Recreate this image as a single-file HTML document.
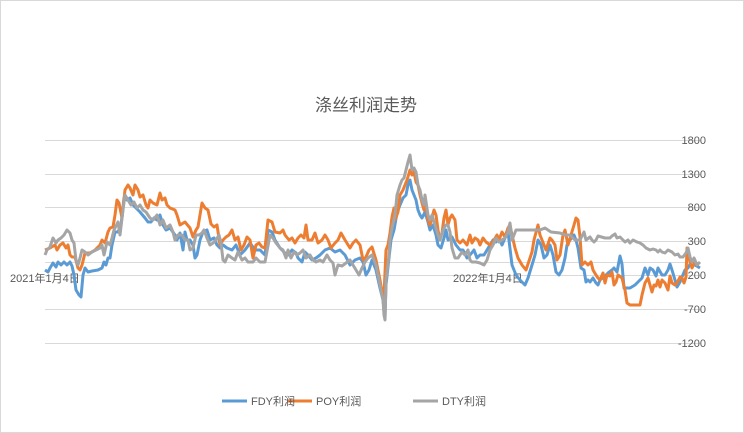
<!DOCTYPE html>
<html><head><meta charset="utf-8"><style>
html,body{margin:0;padding:0;background:#fff}
svg{display:block}
text{font-family:"Liberation Sans","Noto Sans CJK SC",sans-serif;fill:#595959}
</style></head><body>
<svg width="744" height="433" viewBox="0 0 744 433" xmlns="http://www.w3.org/2000/svg">
<rect x="0.5" y="0.5" width="743" height="432" fill="#fff" stroke="#d9d9d9"/>
<text x="366" y="111" font-size="17" text-anchor="middle">涤丝利润走势</text>
<g stroke="#d9d9d9" stroke-width="1">
<line x1="45" x2="700" y1="140.5" y2="140.5"/>
<line x1="45" x2="700" y1="174.5" y2="174.5"/>
<line x1="45" x2="700" y1="207.5" y2="207.5"/>
<line x1="45" x2="700" y1="241.5" y2="241.5"/>
<line x1="45" x2="700" y1="275.5" y2="275.5"/>
<line x1="45" x2="700" y1="309.5" y2="309.5"/>
<line x1="45" x2="700" y1="343.5" y2="343.5"/>
<line x1="45" x2="700" y1="262.5" y2="262.5"/>
</g>
<g font-size="11" text-anchor="end">
<text x="706" y="144">1800</text>
<text x="706" y="178">1300</text>
<text x="706" y="211">800</text>
<text x="706" y="245">300</text>
<text x="706" y="279">-200</text>
<text x="706" y="313">-700</text>
<text x="706" y="347">-1200</text>
</g>
<text x="10" y="282" font-size="11">2021年1月4日</text>
<text x="453" y="282" font-size="11">2022年1月4日</text>
<g fill="none" stroke-width="3" stroke-linejoin="round">
<polyline stroke="#5b9bd5" points="45,270 48,272 50,268 53,263 56,267 58,262 61,265 64,262 67,265 70,262 72,266 74,275 76,290 79,295 81,297 83,275 85,268 88,272 92,271 98,270 102,268 104,262 106,265 108,258 110,258 112,245 115,232 118,232 121,225 124,198 127,200 130,198 133,205 136,208 140,212 145,218 148,222 151,222 154,218 157,220 160,215 163,225 166,230 170,228 175,235 177,240 180,233 183,250 185,232 187,240 190,240 193,245 195,258 197,255 200,240 203,232 207,230 210,240 214,238 217,245 220,248 223,245 227,248 232,250 236,245 240,255 245,250 250,243 255,250 260,250 265,255 268,230 272,232 275,240 280,248 285,253 288,255 292,250 296,253 298,258 302,262 305,252 308,255 312,260 316,258 320,255 325,250 330,248 335,252 340,250 345,255 350,265 355,260 360,258 363,262 366,275 369,270 372,260 376,270 380,288 383,300 385,318 386,285 389,258 391,240 394,230 397,213 400,205 403,198 406,195 408,185 410,180 412,190 414,195 416,200 418,210 420,215 422,218 425,212 428,222 430,230 433,225 436,235 438,245 441,248 444,238 446,230 448,240 452,237 456,245 460,250 463,250 467,258 470,255 474,250 477,258 480,255 484,255 487,250 490,245 493,240 496,242 499,238 502,245 505,238 508,232 512,265 516,275 520,280 525,285 528,278 532,265 535,255 538,240 541,245 544,258 547,255 550,245 553,255 556,272 559,275 562,270 565,258 567,245 570,240 574,235 576,240 578,248 581,268 584,270 586,282 588,280 590,282 593,278 596,283 598,285 600,280 605,276 608,273 612,270 614,268 617,272 620,256 622,264 624,288 630,288 635,285 640,280 642,278 645,268 648,275 650,268 653,270 656,276 658,268 662,275 665,275 668,270 670,264 672,270 675,280 677,287 680,282 682,277 685,270 688,268 692,260 695,265 700,268"/>
<polyline stroke="#ed7d31" points="45,250 50,248 55,245 57,250 60,245 63,243 66,248 68,245 70,255 72,257 75,257 78,268 80,270 82,265 85,253 90,253 95,250 100,245 102,240 105,243 108,232 110,228 113,227 115,215 117,200 119,203 122,218 125,190 128,185 130,188 133,195 135,185 138,190 140,197 143,195 146,205 148,208 150,200 153,203 157,205 160,193 162,200 165,198 167,205 170,208 175,210 177,215 180,225 185,222 190,228 193,237 196,230 198,227 202,203 205,208 208,210 211,224 214,227 217,225 220,245 223,240 226,237 229,235 232,230 235,240 238,237 241,250 244,245 247,237 250,240 253,258 256,245 259,243 262,247 265,248 268,220 272,222 275,232 280,233 283,230 285,235 289,240 292,238 295,243 298,238 301,235 304,238 306,225 308,240 312,240 315,233 318,243 322,240 325,235 328,240 331,248 335,243 338,240 341,233 345,240 350,248 353,243 356,240 360,245 363,260 366,257 369,250 372,247 376,260 380,280 383,298 384,295 386,250 388,245 390,233 392,217 394,208 395,220 398,212 400,195 403,190 405,185 407,180 410,170 412,175 414,172 416,182 418,185 420,195 422,203 424,210 426,205 428,220 430,225 434,210 436,215 438,230 440,240 442,233 444,218 446,210 448,225 450,218 452,215 455,220 457,240 460,243 463,240 467,245 470,235 472,243 475,238 478,240 480,245 483,238 486,242 490,245 494,240 497,235 499,240 502,232 505,237 508,228 510,225 512,235 515,248 518,258 522,265 526,270 530,258 532,252 534,240 538,225 540,235 544,245 546,250 550,238 552,240 555,245 557,260 560,255 563,235 565,230 568,245 571,235 574,225 576,218 578,220 580,237 582,265 585,262 588,265 591,262 593,270 596,275 598,278 600,280 603,273 605,283 607,275 610,276 612,272 614,285 616,282 618,275 622,278 625,290 627,303 630,305 640,305 642,295 645,283 648,278 650,285 652,292 654,285 656,286 658,280 660,287 662,280 665,283 668,290 670,276 672,283 675,285 677,283 680,277 682,278 684,283 686,277 687,248 690,262 692,268 695,262 698,266"/>
<polyline stroke="#a5a5a5" points="45,255 47,250 50,247 53,238 56,243 58,240 61,238 64,235 67,230 70,233 72,240 74,243 76,260 78,265 80,258 82,250 85,252 88,255 92,252 96,250 100,248 102,245 104,255 107,242 110,245 112,238 114,230 118,222 120,235 123,210 125,195 128,200 131,205 134,202 137,208 140,205 143,210 146,212 150,218 153,220 157,215 160,225 163,220 166,228 170,225 173,232 175,240 178,235 182,235 185,240 188,240 190,250 193,248 196,235 199,235 202,233 204,230 207,238 210,245 213,243 216,240 219,235 221,243 223,260 225,262 228,255 232,258 235,260 238,252 242,260 245,258 248,262 253,262 256,258 260,262 265,262 270,235 273,238 276,243 280,248 283,250 286,258 288,250 291,258 294,252 297,255 300,253 303,250 306,258 310,255 313,260 316,262 320,260 323,262 327,255 330,260 333,263 335,275 338,265 342,266 346,263 350,260 353,265 356,270 359,275 362,268 365,262 368,258 372,255 376,265 380,285 383,300 384,315 385,320 386,280 389,255 390,240 392,228 395,215 397,195 400,185 402,180 404,178 406,170 408,162 410,155 412,170 414,168 416,172 418,185 420,190 422,200 424,205 425,195 428,215 430,220 432,215 435,225 438,235 440,240 442,233 444,228 446,225 448,225 450,232 452,248 455,258 458,258 462,252 465,255 468,250 470,260 472,262 476,262 480,263 484,265 487,260 490,250 493,245 496,238 499,242 502,240 505,238 508,232 510,223 512,240 516,230 540,230 545,228 548,230 551,232 560,233 565,235 570,235 575,240 580,240 584,232 586,240 590,237 592,240 594,242 596,240 598,236 605,238 610,238 612,236 615,234 617,238 620,237 625,242 628,240 630,243 633,240 637,242 640,243 643,245 646,248 650,250 653,249 656,250 658,252 660,250 662,252 665,253 668,250 672,252 675,255 678,254 680,257 683,257 686,253 688,248 690,257 692,262 694,258 697,265 700,262"/>
</g>
<g stroke-width="3">
<line x1="222" x2="247" y1="401" y2="401" stroke="#5b9bd5"/>
<line x1="287" x2="312" y1="401" y2="401" stroke="#ed7d31"/>
<line x1="413" x2="438" y1="401" y2="401" stroke="#a5a5a5"/>
</g>
<g font-size="11">
<text x="251" y="405">FDY利润</text>
<text x="316" y="405">POY利润</text>
<text x="442" y="405">DTY利润</text>
</g>
</svg>
</body></html>
